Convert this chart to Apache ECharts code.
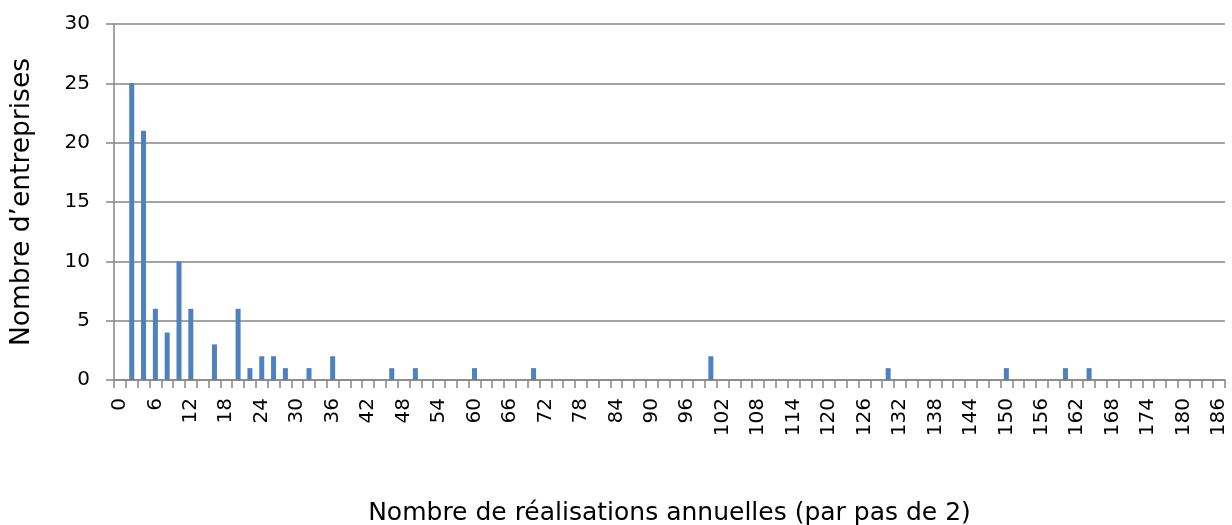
<!DOCTYPE html>
<html>
<head>
<meta charset="utf-8">
<script src="https://cdn.jsdelivr.net/npm/echarts@6/dist/echarts.min.js"></script>
<style>
  html, body { margin: 0; padding: 0; background: #fff; }
  #main { width: 1232px; height: 525px; }
</style>
</head>
<body>
<div id="main"></div>
<script>
// catégories : nombre de réalisations annuelles, par pas de 2
const categories = [
  '0','2','4','6','8','10','12','14','16','18',
  '20','22','24','26','28','30','32','34','36','38',
  '40','42','44','46','48','50','52','54','56','58',
  '60','62','64','66','68','70','72','74','76','78',
  '80','82','84','86','88','90','92','94','96','98',
  '100','102','104','106','108','110','112','114','116','118',
  '120','122','124','126','128','130','132','134','136','138',
  '140','142','144','146','148','150','152','154','156','158',
  '160','162','164','166','168','170','172','174','176','178',
  '180','182','184','186'
]
// nombre d'entreprises
const entreprises = [
  0, 25, 21, 6, 4, 10, 6, 0, 3, 0,
  6, 1, 2, 2, 1, 0, 1, 0, 2, 0,
  0, 0, 0, 1, 0, 1, 0, 0, 0, 0,
  1, 0, 0, 0, 0, 1, 0, 0, 0, 0,
  0, 0, 0, 0, 0, 0, 0, 0, 0, 0,
  2, 0, 0, 0, 0, 0, 0, 0, 0, 0,
  0, 0, 0, 0, 0, 1, 0, 0, 0, 0,
  0, 0, 0, 0, 0, 1, 0, 0, 0, 0,
  1, 0, 1, 0, 0, 0, 0, 0, 0, 0,
  0, 0, 0, 0
]
const yTicks = [0, 5, 10, 15, 20, 25, 30]

const font = 'DejaVu Sans'
const grey = '#868686'

const myChart = echarts.init(document.getElementById('main'))
myChart.setOption({
  animation: false,
  textStyle: { fontFamily: font },
  grid: { left: 114, right: 7, top: 24, bottom: 145, outerBoundsMode: 'none', containLabel: false },
  xAxis: {
    type: 'category',
    data: categories,
    boundaryGap: true,
    name: 'Nombre de réalisations annuelles (par pas de 2)',
    nameLocation: 'middle',
    nameGap: 121,
    nameTextStyle: { fontFamily: font, fontSize: 25, color: '#000' },
    axisLine: { lineStyle: { color: grey, width: 1.5 } },
    axisTick: { show: true, interval: 0, length: 8, lineStyle: { color: grey, width: 1.5 } },
    axisLabel: { interval: 2, rotate: 90, margin: 18, fontFamily: font, fontSize: 20, color: '#000' }
  },
  yAxis: {
    type: 'value',
    min: yTicks[0],
    max: yTicks[yTicks.length - 1],
    interval: 5,
    name: 'Nombre d’entreprises',
    nameLocation: 'middle',
    nameGap: 78,
    nameTextStyle: { fontFamily: font, fontSize: 26.5, color: '#000' },
    axisLine: { show: true, lineStyle: { color: grey, width: 1.5 } },
    axisTick: { show: true, length: 8, lineStyle: { color: grey, width: 1.5 } },
    axisLabel: { margin: 24, fontFamily: font, fontSize: 20, color: '#000' },
    splitLine: { lineStyle: { color: grey, width: 1.5 } }
  },
  series: [{
    name: 'Nombre d’entreprises',
    type: 'bar',
    data: entreprises,
    barWidth: 5,
    itemStyle: { color: '#4F81BD' }
  }]
})
</script>
</body>
</html>
